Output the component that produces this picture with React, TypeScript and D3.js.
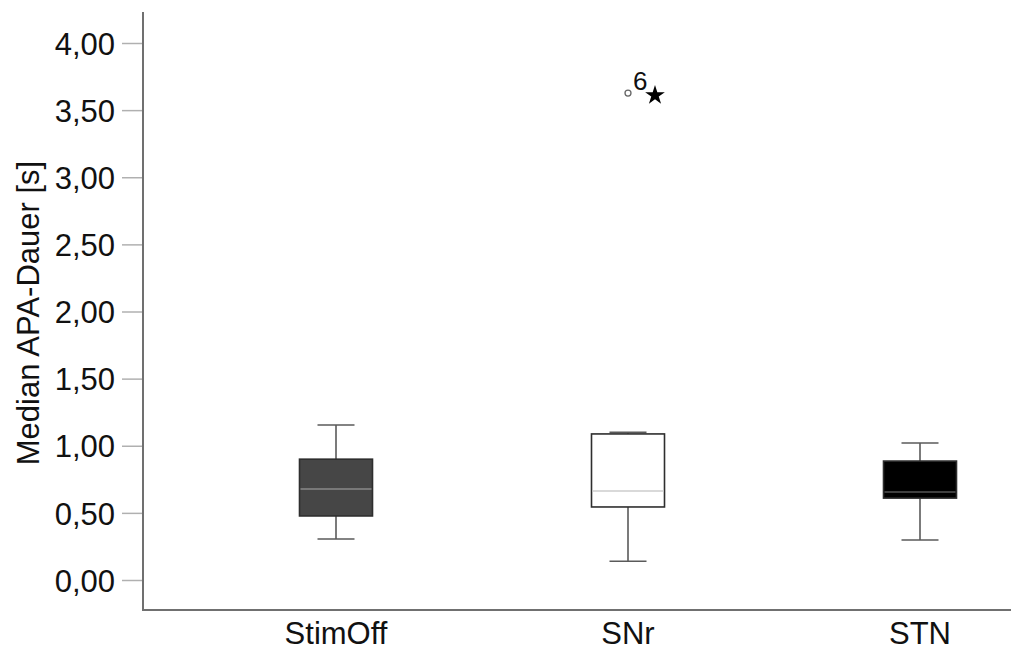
import { useEffect, useRef } from "react";
import * as d3 from "d3";

const categories = ["StimOff", "SNr", "STN"];
const q1 = [0.477, 0.544, 0.61];
const medians = [0.678, 0.663, 0.655];
const q3 = [0.9, 1.088, 0.886];
const whiskLow = [0.305, 0.14, 0.298];
const whiskHigh = [1.155, 1.1, 1.02];
const boxFill = ["#464646", "#ffffff", "#000000"];
const medianColor = ["#8a8a8a", "#cccccc", "#555555"];
// outliers: SNr circle, SNr extreme (star), label
const outlierCat = "SNr";
const outlierVal = 3.627;
const extremeVal = 3.61;
const outlierLabel = "6";
const yTicks = [0, 0.5, 1, 1.5, 2, 2.5, 3, 3.5, 4];

export default function App() {
  const ref = useRef<SVGSVGElement>(null);

  useEffect(() => {
    const svg = d3.select(ref.current);
    svg.selectAll("*").remove();
    const font = "'Liberation Sans', Arial, sans-serif";

    const y = d3.scaleLinear().domain([0, 4]).range([580, 43]);
    const x = d3.scalePoint<string>().domain(categories).range([336, 920]);
    const boxW = 73;
    const capW = 37;

    const g = svg.append("g");

    // y ticks
    const yAxis = g.append("g").attr("transform", "translate(143,0)")
      .call(d3.axisLeft(y).tickValues(yTicks).tickSize(21).tickPadding(7)
        .tickFormat(d => d3.format(".2f")(d as number).replace(".", ",")));
    yAxis.select(".domain").remove();
    yAxis.selectAll(".tick line").attr("stroke", "#b0b0b0").attr("stroke-width", 1.5);
    yAxis.selectAll(".tick text").attr("font-family", font).attr("font-size", 31)
      .attr("fill", "#111").attr("dy", "0.36em");

    // axes lines
    g.append("line").attr("x1", 143).attr("x2", 143).attr("y1", 12).attr("y2", 611)
      .attr("stroke", "#707070").attr("stroke-width", 2);
    g.append("line").attr("x1", 142).attr("x2", 1011).attr("y1", 610).attr("y2", 610)
      .attr("stroke", "#707070").attr("stroke-width", 2);

    // x labels
    g.selectAll(".xl").data(categories).enter().append("text")
      .attr("x", d => x(d)!).attr("y", 644).attr("text-anchor", "middle")
      .attr("font-family", font).attr("font-size", 31).attr("fill", "#111").text(d => d);

    // y label
    g.append("text").attr("transform", `translate(39,313) rotate(-90)`)
      .attr("text-anchor", "middle").attr("font-family", font).attr("font-size", 31)
      .attr("fill", "#111").text("Median APA-Dauer [s]");

    categories.forEach((c, i) => {
      const cx = x(c)!;
      const wg = g.append("g").attr("stroke", "#5a5a5a").attr("stroke-width", 1.6);
      wg.append("line").attr("x1", cx).attr("x2", cx).attr("y1", y(whiskHigh[i])).attr("y2", y(q3[i]));
      wg.append("line").attr("x1", cx).attr("x2", cx).attr("y1", y(q1[i])).attr("y2", y(whiskLow[i]));
      wg.append("line").attr("x1", cx - capW / 2).attr("x2", cx + capW / 2)
        .attr("y1", y(whiskHigh[i])).attr("y2", y(whiskHigh[i]));
      wg.append("line").attr("x1", cx - capW / 2).attr("x2", cx + capW / 2)
        .attr("y1", y(whiskLow[i])).attr("y2", y(whiskLow[i]));
      g.append("rect").attr("x", cx - boxW / 2).attr("width", boxW)
        .attr("y", y(q3[i])).attr("height", y(q1[i]) - y(q3[i]))
        .attr("fill", boxFill[i]).attr("stroke", "#2e2e2e").attr("stroke-width", 1.6);
      g.append("line").attr("x1", cx - boxW / 2 + 1).attr("x2", cx + boxW / 2 - 1)
        .attr("y1", y(medians[i])).attr("y2", y(medians[i]))
        .attr("stroke", medianColor[i]).attr("stroke-width", 1.6);
    });

    // outlier + extreme
    const ox = x(outlierCat)!;
    g.append("circle").attr("cx", ox).attr("cy", y(outlierVal)).attr("r", 3)
      .attr("fill", "white").attr("stroke", "#666").attr("stroke-width", 1.3);
    g.append("path").attr("d", d3.symbol(d3.symbolStar, 120)())
      .attr("transform", `translate(${ox + 27},${y(extremeVal)})`).attr("fill", "#000");
    g.append("text").attr("x", ox + 5).attr("y", y(outlierVal) - 3)
      .attr("font-family", font).attr("font-size", 26).attr("fill", "#111").text(outlierLabel);
  }, []);

  return (
    <svg ref={ref} width={1011} height={652}
      style={{ position: "absolute", left: 0, top: 0, background: "white" }} />
  );
}
